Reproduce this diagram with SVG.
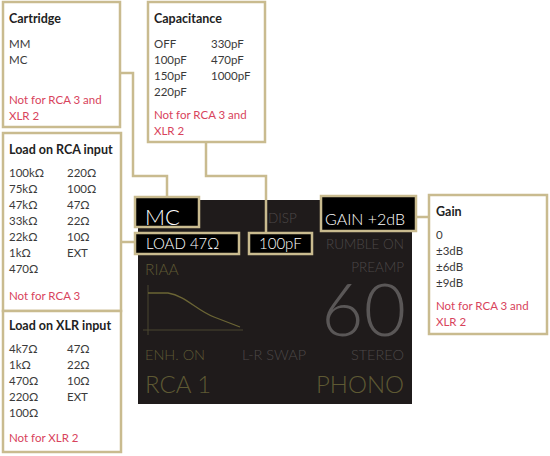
<svg xmlns="http://www.w3.org/2000/svg" width="550" height="456" viewBox="0 0 550 456">
<style>
.box{fill:#fff;stroke:#c9bb8f;stroke-width:2.5}
.hl{fill:#000;stroke:#c9bb8f;stroke-width:2.5}
.conn{fill:none;stroke:#c9bb8f;stroke-width:2.5}
text{font-family:Lato,"Open Sans","Liberation Sans",sans-serif}
.h{font-size:12.5px;font-weight:bold;fill:#222}
.t{font-size:11.5px;fill:#3a3a3a}
.r{font-size:11.5px;fill:#d8435c}
.d{font-weight:300}
.w{fill:#fff}
.g{fill:#4d4848}
.o{fill:#5e5933}
</style>
<rect x="0" y="0" width="550" height="456" fill="#fff"/>
<g id="display">
<rect x="138" y="200" width="274" height="204" fill="#1f1b1b"/>
<text class="d g" x="268" y="223" font-size="13.5">DISP</text>
<text class="d g" x="404" y="249" font-size="13.5" text-anchor="end">RUMBLE ON</text>
<text class="d g" x="404" y="272" font-size="13.5" text-anchor="end">PREAMP</text>
<text class="d o" x="145" y="275" font-size="15.5">RIAA</text>
<path d="M148,285 V335 M143,330 H243" fill="none" stroke="#4a4630" stroke-width="1"/>
<path d="M148,293 H168 C186,296 196,310 214,317 L240,327" fill="none" stroke="#6b6535" stroke-width="1.3"/>
<text class="d" x="406" y="336" font-size="73" text-anchor="end" fill="#5a5757">60</text>
<text class="d o" x="145" y="360" font-size="14.5">ENH. ON</text>
<text class="d g" x="242" y="360" font-size="14.5">L-R SWAP</text>
<text class="d g" x="404" y="360" font-size="14.5" text-anchor="end">STEREO</text>
<text class="d o" x="145" y="393" font-size="24">RCA 1</text>
<text class="d o" x="404" y="393" font-size="24" text-anchor="end">PHONO</text>
</g>
<g id="connectors">
<path class="conn" d="M120,73 H133 V176 H167 V196"/>
<path class="conn" d="M206,142 V176 H266 V232"/>
<path class="conn" d="M121,242 H135"/>
<path class="conn" d="M416,217 H429"/>
</g>
<g id="mc">
<rect class="hl" x="135" y="197" width="64" height="30"/>
<text class="d w" x="145" y="225" font-size="22">MC</text>
</g>
<g id="load">
<rect class="hl" x="135" y="233" width="104" height="21"/>
<text class="d w" x="146" y="249" font-size="15">LOAD 47Ω</text>
</g>
<g id="cap">
<rect class="hl" x="249" y="233" width="63" height="21"/>
<text class="d w" x="259" y="249" font-size="15">100pF</text>
</g>
<g id="gain">
<rect class="hl" x="321" y="196" width="95" height="35"/>
<text class="d w" x="325" y="225" font-size="16">GAIN +2dB</text>
</g>
<g id="cartridge">
<rect class="box" x="3" y="2" width="117" height="125"/>
<text class="h" x="9" y="23">Cartridge</text>
<text class="t" x="9" y="48">MM</text>
<text class="t" x="9" y="64">MC</text>
<text class="r" x="9" y="104">Not for RCA 3 and</text>
<text class="r" x="9" y="120">XLR 2</text>
</g>
<g id="capacitance">
<rect class="box" x="148" y="2" width="117" height="140"/>
<text class="h" x="154" y="23">Capacitance</text>
<text class="t" x="154" y="48">OFF</text>
<text class="t" x="154" y="64">100pF</text>
<text class="t" x="154" y="80">150pF</text>
<text class="t" x="154" y="96">220pF</text>
<text class="t" x="211" y="48">330pF</text>
<text class="t" x="211" y="64">470pF</text>
<text class="t" x="211" y="80">1000pF</text>
<text class="r" x="154" y="119">Not for RCA 3 and</text>
<text class="r" x="154" y="135">XLR 2</text>
</g>
<g id="load-rca">
<rect class="box" x="3" y="133" width="118" height="178"/>
<text class="h" x="9" y="154">Load on RCA input</text>
<text class="t" x="9" y="177">100kΩ</text>
<text class="t" x="9" y="193">75kΩ</text>
<text class="t" x="9" y="209">47kΩ</text>
<text class="t" x="9" y="225">33kΩ</text>
<text class="t" x="9" y="241">22kΩ</text>
<text class="t" x="9" y="257">1kΩ</text>
<text class="t" x="9" y="273">470Ω</text>
<text class="t" x="67" y="177">220Ω</text>
<text class="t" x="67" y="193">100Ω</text>
<text class="t" x="67" y="209">47Ω</text>
<text class="t" x="67" y="225">22Ω</text>
<text class="t" x="67" y="241">10Ω</text>
<text class="t" x="67" y="257">EXT</text>
<text class="r" x="9" y="300">Not for RCA 3</text>
</g>
<g id="load-xlr">
<rect class="box" x="3" y="311" width="118" height="141"/>
<text class="h" x="9" y="330">Load on XLR input</text>
<text class="t" x="9" y="353">4k7Ω</text>
<text class="t" x="9" y="369">1kΩ</text>
<text class="t" x="9" y="385">470Ω</text>
<text class="t" x="9" y="401">220Ω</text>
<text class="t" x="9" y="417">100Ω</text>
<text class="t" x="67" y="353">47Ω</text>
<text class="t" x="67" y="369">22Ω</text>
<text class="t" x="67" y="385">10Ω</text>
<text class="t" x="67" y="401">EXT</text>
<text class="r" x="9" y="442">Not for XLR 2</text>
</g>
<g id="gain-box">
<rect class="box" x="429" y="195" width="118" height="139"/>
<text class="h" x="436" y="216">Gain</text>
<text class="t" x="436" y="239">0</text>
<text class="t" x="436" y="255">±3dB</text>
<text class="t" x="436" y="271">±6dB</text>
<text class="t" x="436" y="287">±9dB</text>
<text class="r" x="436" y="310">Not for RCA 3 and</text>
<text class="r" x="436" y="326">XLR 2</text>
</g>
</svg>
